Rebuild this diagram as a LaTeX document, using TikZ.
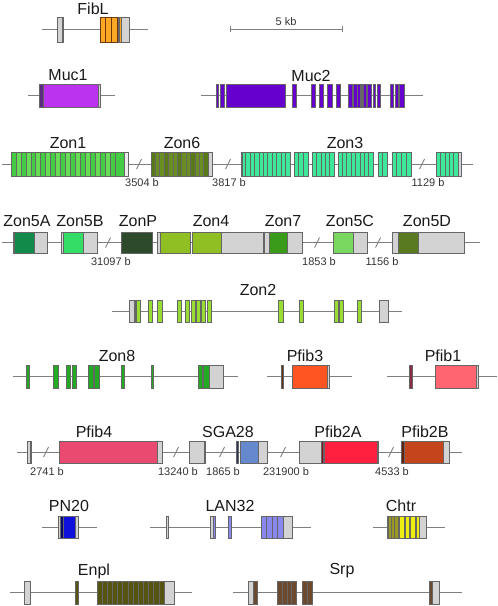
\documentclass[tikz,border=0pt]{standalone}
\usepackage{fontspec}
\setmainfont{Liberation Sans}
\usepackage{xcolor}
\usetikzlibrary{positioning}

% colours of the exons
\definecolor{utrgray}{HTML}{D3D3D3}
\definecolor{edgegray}{HTML}{666666}
\definecolor{linegray}{HTML}{7F7F7F}
\definecolor{fiblorange}{HTML}{FFA826}
\definecolor{fiblbrown}{HTML}{8B4513}
\definecolor{mucone}{HTML}{BB33EE}
\definecolor{mucdark}{HTML}{5A2D82}
\definecolor{muctwo}{HTML}{6600CC}
\definecolor{zonone}{HTML}{44CC44}
\definecolor{zononelight}{HTML}{66DD55}
\definecolor{zonsix}{HTML}{6B8E23}
\definecolor{zonsixdark}{HTML}{5A7A1A}
\definecolor{zonthree}{HTML}{3EE89A}
\definecolor{zonfivea}{HTML}{128A4A}
\definecolor{zonfiveb}{HTML}{33DD66}
\definecolor{zonp}{HTML}{2D4A2D}
\definecolor{zonfour}{HTML}{8FBF22}
\definecolor{zonseven}{HTML}{3A9A1A}
\definecolor{zonfivec}{HTML}{7AD860}
\definecolor{zonfived}{HTML}{5A7A22}
\definecolor{zontwo}{HTML}{99DD33}
\definecolor{zoneight}{HTML}{22AA22}
\definecolor{pfibthree}{HTML}{FF5522}
\definecolor{pfibone}{HTML}{FF6670}
\definecolor{pfibfour}{HTML}{E84A70}
\definecolor{pfibtwoa}{HTML}{FF2040}
\definecolor{pfibtwob}{HTML}{C4441C}
\definecolor{sgablue}{HTML}{6688CC}
\definecolor{pnblue}{HTML}{1010DD}
\definecolor{lanblue}{HTML}{8888EE}
\definecolor{chtryellow}{HTML}{EEEE11}
\definecolor{chtrolive}{HTML}{999922}
\definecolor{enplolive}{HTML}{555511}
\definecolor{srpbrown}{HTML}{6B4A2F}

\begin{document}
\begin{tikzpicture}[
		x=1pt, y=-1pt,
		% Defining consistent styles
		intronline/.style={
				draw=linegray,
				line width=0.8pt
			},
		exonbox/.style={
				draw=edgegray,
				line width=0.6pt
			},
		utrbox/.style={
				exonbox,
				fill=utrgray
			},
		breakmark/.style={
				draw=linegray,
				line width=0.9pt
			},
		genelabel/.style={
				inner sep=0pt,
				font=\fontsize{16}{16}\selectfont,
				text=black!90
			},
		gaplabel/.style={
				inner sep=0pt,
				font=\fontsize{11}{11}\selectfont,
				text=black!80
			}
		]

		\useasboundingbox (0,0) rectangle (498,606);

		% Scale bar
		\draw[intronline] (230,29) -- (342,29);
		\draw[intronline] (230,26) -- (230,32);
		\draw[intronline] (342,26) -- (342,32);
		\node[gaplabel] (scale_label) at (286,22) {5 kb};

		% FibL
		\node[genelabel] (fibl_label) at (93,9) {FibL};
		\begin{scope}[shift={(0,29.5)}]
			\draw[intronline] (42,0) -- (148,0);
			\draw[utrbox] (57,-12.5) rectangle (62,12.5);
			\draw[exonbox, fill=fiblbrown] (62,-12.5) rectangle (63.5,12.5);
			\foreach \a/\b in {100/105.5, 105.5/111, 111/117}
				\draw[exonbox, draw=fiblbrown!80!black, fill=fiblorange] (\a,-12.5) rectangle (\b,12.5);
			\draw[exonbox, fill=fiblbrown] (118,-12.5) rectangle (119.5,12.5);
			\draw[exonbox, fill=fiblorange] (119.5,-12.5) rectangle (121,12.5);
			\draw[utrbox] (121,-12.5) rectangle (129,12.5);
		\end{scope}

		% Muc1 and Muc2
		\node[genelabel] (muc1_label) at (68,75) {Muc1};
		\node[genelabel] (muc2_label) at (311,76) {Muc2};
		\begin{scope}[shift={(0,95.5)}]
			\draw[intronline] (28,0) -- (115,0);
			\draw[exonbox, fill=mucdark] (39,-11.5) rectangle (43,11.5);
			\draw[exonbox, fill=mucone] (43,-11.5) rectangle (98,11.5);
			\draw[utrbox] (98,-11.5) rectangle (100,11.5);
			\draw[intronline] (201,0) -- (423,0);
			\foreach \a/\b in {216/218, 220/224, 226/285, 292/296, 311/315, 319/323,
					327/332, 336/340, 348/352, 353/357, 357.5/360, 361/362.5, 363/366,
					367/371, 373/375, 377/380, 390/393, 395/398, 399/404}
				\draw[exonbox, fill=muctwo] (\a,-11.5) rectangle (\b,11.5);
		\end{scope}

		% Zon1, Zon6 and Zon3
		\node[genelabel] (zon1_label) at (68,143) {Zon1};
		\node[genelabel] (zon6_label) at (182,143) {Zon6};
		\node[genelabel] (zon3_label) at (345,143) {Zon3};
		\begin{scope}[shift={(0,164)}]
			\draw[intronline] (2,0) -- (473,0);
			\foreach \i in {0,...,20}{
				\pgfmathsetmacro{\shade}{ifthenelse(mod(\i,2)==0,1,0)}
				\ifnum\shade=1
					\draw[exonbox, fill=zonone] ({11+\i*4.95},-12) rectangle ++(4.95,24);
				\else
					\draw[exonbox, fill=zononelight] ({11+\i*4.95},-12) rectangle ++(4.95,24);
				\fi
			}
			\draw[exonbox, fill=zonone] (115,-12) rectangle (124,12);
			\draw[utrbox, fill=white!60!utrgray] (124,-12) rectangle (128,12);
			\draw[breakmark] (139,0) ++(-2.5,5) -- ++(5,-10);
			\foreach \i in {0,...,12}{
				\pgfmathsetmacro{\shade}{ifthenelse(mod(\i,3)==0,1,0)}
				\ifnum\shade=1
					\draw[exonbox, fill=zonsixdark] ({151+\i*4.38},-12) rectangle ++(4.38,24);
				\else
					\draw[exonbox, fill=zonsix] ({151+\i*4.38},-12) rectangle ++(4.38,24);
				\fi
			}
			\draw[utrbox] (208,-12) rectangle (212,12);
			\draw[breakmark] (228,0) ++(-2.5,5) -- ++(5,-10);
			\foreach \s/\n/\w in {241/11/4.45, 294/3/4.67, 312/5/4.4, 338/8/4.375,
					378/2/4.5, 392/4/4.75, 436/5/4.4}
				\foreach \i in {1,...,\n}
					\draw[exonbox, fill=zonthree] ({\s+(\i-1)*\w},-12) rectangle ++(\w,24);
			\draw[exonbox, fill=zonp] (241,-12) rectangle (242,12);
			\draw[utrbox] (458,-12) rectangle (461,12);
			\draw[breakmark] (422,0) ++(-2.5,5) -- ++(5,-10);
		\end{scope}
		\node[gaplabel] (gap_3504) at (142,183) {3504 b};
		\node[gaplabel] (gap_3817) at (229,183) {3817 b};
		\node[gaplabel] (gap_1129) at (428,183) {1129 b};

		% Zon5A to Zon5D
		\node[genelabel] (zon5a_label) at (27,221) {Zon5A};
		\node[genelabel] (zon5b_label) at (80,221) {Zon5B};
		\node[genelabel] (zonp_label) at (138,221) {ZonP};
		\node[genelabel] (zon4_label) at (211,221) {Zon4};
		\node[genelabel] (zon7_label) at (283,221) {Zon7};
		\node[genelabel] (zon5c_label) at (350,221) {Zon5C};
		\node[genelabel] (zon5d_label) at (427,221) {Zon5D};
		\begin{scope}[shift={(0,242.5)}]
			\draw[intronline] (2,0) -- (480,0);
			\draw[exonbox, fill=zonp] (13,-10.5) rectangle (14,10.5);
			\draw[exonbox, fill=zonfivea] (14,-10.5) rectangle (34,10.5);
			\draw[utrbox] (34,-10.5) rectangle (47,10.5);
			\draw[utrbox] (61,-10.5) rectangle (63,10.5);
			\draw[exonbox, fill=zonfiveb] (63,-10.5) rectangle (83,10.5);
			\draw[utrbox] (83,-10.5) rectangle (97,10.5);
			\draw[breakmark] (108,0) ++(-2.5,5) -- ++(5,-10);
			\draw[exonbox, fill=zonp] (121,-10.5) rectangle (152,10.5);
			\draw[utrbox] (157,-10.5) rectangle (160,10.5);
			\draw[exonbox, fill=zonfour] (160,-10.5) rectangle (190,10.5);
			\draw[exonbox, fill=zonfour] (192,-10.5) rectangle (221,10.5);
			\draw[utrbox] (221,-10.5) rectangle (263,10.5);
			\draw[utrbox] (264,-10.5) rectangle (269,10.5);
			\draw[exonbox, fill=zonseven] (269,-10.5) rectangle (287,10.5);
			\draw[utrbox] (287,-10.5) rectangle (302,10.5);
			\draw[breakmark] (317,0) ++(-2.5,5) -- ++(5,-10);
			\draw[exonbox, fill=zonfivec] (333,-10.5) rectangle (353,10.5);
			\draw[utrbox] (353,-10.5) rectangle (367,10.5);
			\draw[breakmark] (378,0) ++(-2.5,5) -- ++(5,-10);
			\draw[utrbox] (392,-10.5) rectangle (398,10.5);
			\draw[exonbox, fill=zonfived] (398,-10.5) rectangle (418,10.5);
			\draw[utrbox] (418,-10.5) rectangle (464,10.5);
		\end{scope}
		\node[gaplabel] (gap_31097) at (111,262) {31097 b};
		\node[gaplabel] (gap_1853) at (319,262) {1853 b};
		\node[gaplabel] (gap_1156) at (382,262) {1156 b};

		% Zon2
		\node[genelabel] (zon2_label) at (258,290) {Zon2};
		\begin{scope}[shift={(0,311)}]
			\draw[intronline] (112,0) -- (402,0);
			\draw[utrbox] (129,-11) rectangle (134,11);
			\foreach \a/\b in {134/135.5, 136/140, 148/152, 157/162, 177/181, 185/189,
					191/195, 196/200, 201/205, 207/211, 278/283, 299/303, 334/338,
					339/343, 357/361}
				\draw[exonbox, fill=zontwo] (\a,-11) rectangle (\b,11);
			\draw[utrbox] (379,-11) rectangle (388,11);
		\end{scope}

		% Zon8, Pfib3 and Pfib1
		\node[genelabel] (zon8_label) at (117,356) {Zon8};
		\node[genelabel] (pfib3_label) at (305,356) {Pfib3};
		\node[genelabel] (pfib1_label) at (443,356) {Pfib1};
		\begin{scope}[shift={(0,376.5)}]
			\draw[intronline] (13,0) -- (238,0);
			\foreach \a/\b in {26/29, 53/58, 66/70, 72/76, 88/93, 94/99, 121/124,
					151/153, 198/202, 203/209}
				\draw[exonbox, fill=zoneight] (\a,-11.5) rectangle (\b,11.5);
			\draw[utrbox] (209,-11.5) rectangle (223,11.5);
			\draw[intronline] (267,0) -- (352,0);
			\draw[exonbox, fill=fiblbrown!70!black] (281,-11.5) rectangle (283,11.5);
			\draw[exonbox, fill=pfibthree] (292,-11.5) rectangle (327,11.5);
			\draw[utrbox] (327,-11.5) rectangle (329,11.5);
			\draw[intronline] (387,0) -- (497,0);
			\draw[exonbox, fill=pfibfour!60!black] (409,-11.5) rectangle (412,11.5);
			\draw[exonbox, fill=pfibone] (435,-11.5) rectangle (476,11.5);
			\draw[utrbox] (476,-11.5) rectangle (478,11.5);
		\end{scope}

		% Pfib4, SGA28, Pfib2A and Pfib2B
		\node[genelabel] (pfib4_label) at (94,432) {Pfib4};
		\node[genelabel] (sga28_label) at (228,432) {SGA28};
		\node[genelabel] (pfib2a_label) at (338,432) {Pfib2A};
		\node[genelabel] (pfib2b_label) at (425,432) {Pfib2B};
		\begin{scope}[shift={(0,452)}]
			\draw[intronline] (17,0) -- (462,0);
			\draw[utrbox] (27,-11) rectangle (30,11);
			\draw[exonbox, fill=pfibfour!60!black] (30,-11) rectangle (31.5,11);
			\draw[breakmark] (46,0) ++(-2.5,5) -- ++(5,-10);
			\draw[exonbox, fill=pfibfour] (59,-11) rectangle (157,11);
			\draw[utrbox] (157,-11) rectangle (162,11);
			\draw[breakmark] (176,0) ++(-2.5,5) -- ++(5,-10);
			\draw[utrbox] (189,-11) rectangle (204,11);
			\draw[exonbox, fill=sgablue!40!black] (204,-11) rectangle (205.5,11);
			\draw[breakmark] (222,0) ++(-2.5,5) -- ++(5,-10);
			\draw[exonbox, fill=sgablue!40!black] (236,-11) rectangle (238,11);
			\draw[exonbox, fill=sgablue] (240,-11) rectangle (258,11);
			\draw[utrbox] (258,-11) rectangle (267,11);
			\draw[breakmark] (283,0) ++(-2.5,5) -- ++(5,-10);
			\draw[utrbox] (299,-11) rectangle (321,11);
			\draw[exonbox, fill=pfibtwoa!50!black] (321,-11) rectangle (323,11);
			\draw[exonbox, fill=pfibtwoa] (324,-11) rectangle (377,11);
			\draw[utrbox] (377,-11) rectangle (378.5,11);
			\draw[breakmark] (391,0) ++(-2.5,5) -- ++(5,-10);
			\draw[exonbox, fill=pfibtwob!50!black] (401,-11) rectangle (404,11);
			\draw[exonbox, fill=pfibtwob] (404,-11) rectangle (443,11);
			\draw[utrbox] (443,-11) rectangle (449,11);
		\end{scope}
		\node[gaplabel] (gap_2741) at (47,472) {2741 b};
		\node[gaplabel] (gap_13240) at (178,472) {13240 b};
		\node[gaplabel] (gap_1865) at (223,472) {1865 b};
		\node[gaplabel] (gap_231900) at (286,472) {231900 b};
		\node[gaplabel] (gap_4533) at (392,472) {4533 b};

		% PN20, LAN32 and Chtr
		\node[genelabel] (pn20_label) at (69,506) {PN20};
		\node[genelabel] (lan32_label) at (230,506) {LAN32};
		\node[genelabel] (chtr_label) at (401,506) {Chtr};
		\begin{scope}[shift={(0,527)}]
			\draw[intronline] (42,0) -- (97,0);
			\draw[utrbox] (58,-11) rectangle (60,11);
			\draw[exonbox, fill=pnblue!50!black] (60,-11) rectangle (63,11);
			\draw[exonbox, fill=pnblue] (63,-11) rectangle (75,11);
			\draw[utrbox] (75,-11) rectangle (78,11);
			\draw[intronline] (150,0) -- (311,0);
			\draw[utrbox] (166,-11) rectangle (168,11);
			\draw[utrbox] (210,-11) rectangle (213,11);
			\foreach \a/\b in {213/215, 228/231, 261/266.5, 266.5/272, 272/277.5, 277.5/283}
				\draw[exonbox, fill=lanblue] (\a,-11) rectangle (\b,11);
			\draw[utrbox] (283,-11) rectangle (292,11);
			\draw[intronline] (373,0) -- (445,0);
			\draw[utrbox] (387,-11) rectangle (388.5,11);
			\foreach \a/\b in {388.5/391.5, 391.5/394.5, 394.5/398}
				\draw[exonbox, fill=chtrolive] (\a,-11) rectangle (\b,11);
			\foreach \a/\b in {399/404, 405/409, 410/415, 416/419}
				\draw[exonbox, fill=chtryellow] (\a,-11) rectangle (\b,11);
			\draw[utrbox] (419.5,-11) rectangle (426,11);
		\end{scope}

		% Enpl and Srp
		\node[genelabel] (enpl_label) at (94,571) {Enpl};
		\node[genelabel] (srp_label) at (342,571) {Srp};
		\begin{scope}[shift={(0,592.5)}]
			\draw[intronline] (10,0) -- (192,0);
			\draw[utrbox] (24,-11.5) rectangle (30,11.5);
			\draw[exonbox, fill=enplolive] (75,-11.5) rectangle (78,11.5);
			\foreach \i in {0,...,12}
				\draw[exonbox, fill=enplolive] ({97+\i*5.15},-11.5) rectangle ++(5.15,23);
			\draw[utrbox] (164,-11.5) rectangle (174,11.5);
			\draw[intronline] (233,0) -- (462,0);
			\draw[utrbox] (248,-11.5) rectangle (253,11.5);
			\foreach \a/\b in {253/257, 277/282, 282/287, 287/291.5, 291.5/296,
					302/307, 307/312, 429/432}
				\draw[exonbox, fill=srpbrown] (\a,-11.5) rectangle (\b,11.5);
			\draw[utrbox] (432,-11.5) rectangle (439,11.5);
		\end{scope}

	\end{tikzpicture}
\end{document}
